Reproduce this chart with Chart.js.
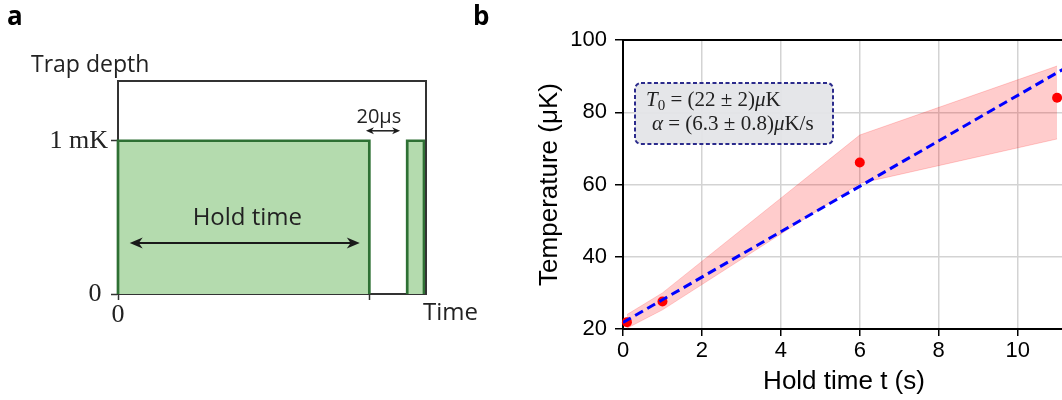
<!DOCTYPE html>
<html>
<head>
<meta charset="utf-8">
<script src="https://cdn.jsdelivr.net/npm/chart.js@4"></script>
<style>
  html, body { margin: 0; padding: 0; background: #fff; width: 1062px; height: 400px; overflow: hidden; }
  #wrapA { position: absolute; left: 0; top: 0; width: 480px; height: 400px; }
  #wrapB { position: absolute; left: 470px; top: 0; width: 600px; height: 400px; }
</style>
</head>
<body>
<div id="wrapA"><canvas id="trapChart" width="480" height="400"></canvas></div>
<div id="wrapB"><canvas id="tempChart" width="600" height="400"></canvas></div>
<script>
// ---- panel b: measured temperatures ----
var holdTimes = [0.1, 1, 6, 11];
var temperatures = [21.9, 27.6, 66.1, 84.0];
var bandUpper = [24.0, 30.0, 73.7, 92.8];
var bandLower = [20.2, 25.3, 60.3, 72.6];
var fitTimes = [0, 11.2];
var fitTemps = [21.8, 92.2];
var timeTicksB = [0, 2, 4, 6, 8, 10];
var tempTicksB = [20, 40, 60, 80, 100];

// ---- panel a: trap depth schematic (arbitrary units) ----
var pulseLevel = [0, 1, 1, 0];
var holdPulseX = [0, 0, 0.816, 0.816];
var probePulseX = [0.939, 0.939, 0.9935, 0.9935];
var depthTicks = [0, 1];
var depthLabels = ['0 ', '1 mK'];
var timeTicksA = [0, 0.816];
var timeLabelsA = ['0', ''];
var holdArrow = [0.038, 0.785, 0.333];
var gapArrow = [0.805, 0.916, 1.065];

function pts(xs, ys) {
    return xs.map(function (x, i) { return { x: x, y: ys[i] }; });
}

function arrowHead(ctx, x, y, dir, len, half) {
    ctx.beginPath();
    ctx.moveTo(x, y);
    ctx.lineTo(x - dir * len, y - half);
    ctx.lineTo(x - dir * len * 0.7, y);
    ctx.lineTo(x - dir * len, y + half);
    ctx.closePath();
    ctx.fill();
}

function doubleArrow(ctx, x1, x2, y, len, half, width) {
    ctx.lineWidth = width;
    ctx.beginPath();
    ctx.moveTo(x1 + len * 0.6, y);
    ctx.lineTo(x2 - len * 0.6, y);
    ctx.stroke();
    arrowHead(ctx, x1, y, -1, len, half);
    arrowHead(ctx, x2, y, 1, len, half);
}

// frame, arrows and texts of the schematic
var schematicPlugin = {
    id: 'schematic',
    afterDraw: function (chart) {
        var ctx = chart.ctx, a = chart.chartArea;
        var sx = chart.scales.x, sy = chart.scales.y;
        ctx.save();
        ctx.strokeStyle = '#333';
        ctx.lineWidth = 2;
        ctx.beginPath();
        ctx.moveTo(a.left - 1, a.top);
        ctx.lineTo(a.right, a.top);
        ctx.lineTo(a.right, a.bottom);
        ctx.stroke();

        ctx.fillStyle = '#1a1a1a';
        ctx.strokeStyle = '#1a1a1a';
        doubleArrow(ctx, sx.getPixelForValue(holdArrow[0]), sx.getPixelForValue(holdArrow[1]),
            sy.getPixelForValue(holdArrow[2]), 13, 5.5, 2);
        doubleArrow(ctx, sx.getPixelForValue(gapArrow[0]), sx.getPixelForValue(gapArrow[1]),
            sy.getPixelForValue(gapArrow[2]), 8, 3.5, 1.5);

        ctx.fillStyle = '#222';
        ctx.textBaseline = 'alphabetic';
        ctx.textAlign = 'center';
        ctx.font = '24px "Open Sans"';
        ctx.fillText('Hold time', sx.getPixelForValue(0.42), sy.getPixelForValue(0.45));
        ctx.font = '20px "Open Sans"';
        ctx.fillText('20\u03bcs', sx.getPixelForValue(0.847), sy.getPixelForValue(1.117));
        ctx.textAlign = 'left';
        ctx.font = '23px "Open Sans"';
        ctx.fillText('Trap depth', a.left - 87, a.top - 9);
        ctx.font = '24px "Open Sans"';
        ctx.fillText('Time', a.right - 3, a.bottom + 26);
        ctx.fillStyle = '#000';
        ctx.font = 'bold 26px "Open Sans"';
        ctx.fillText('a', 7, 25);
        ctx.restore();
    }
};

new Chart(document.getElementById('trapChart'), {
    type: 'scatter',
    data: {
        datasets: [
            {
                data: pts(holdPulseX, pulseLevel), showLine: true, fill: 'origin', clip: false,
                borderColor: '#2e7034', borderWidth: 2.7, backgroundColor: '#b4dbae', pointRadius: 0
            },
            {
                data: pts(probePulseX, pulseLevel), showLine: true, fill: 'origin', clip: false,
                borderColor: '#2e7034', borderWidth: 2.7, backgroundColor: '#b4dbae', pointRadius: 0
            }
        ]
    },
    options: {
        responsive: false,
        animation: false,
        layout: { padding: { left: 0, right: 54, top: 81, bottom: 0 } },
        plugins: { legend: { display: false }, tooltip: { enabled: false } },
        scales: {
            x: {
                type: 'linear', min: 0, max: 1,
                afterBuildTicks: function (s) { s.ticks = timeTicksA.map(function (v) { return { value: v }; }); },
                afterFit: function (s) { s.height = 106; },
                grid: { drawOnChartArea: false, tickLength: 6, tickColor: '#333', tickWidth: 1.5 },
                border: { color: '#333', width: 2 },
                ticks: {
                    callback: function (v, i) { return timeLabelsA[i]; },
                    autoSkip: false, maxRotation: 0, padding: 0, color: '#222',
                    font: { family: 'Liberation Serif', size: 26 }
                }
            },
            y: {
                type: 'linear', min: 0, max: 1.39,
                afterBuildTicks: function (s) { s.ticks = depthTicks.map(function (v) { return { value: v }; }); },
                afterFit: function (s) { s.width = 118; },
                grid: { drawOnChartArea: false, tickLength: 7, tickColor: '#333', tickWidth: 1.5 },
                border: { color: '#333', width: 2 },
                ticks: {
                    callback: function (v, i) { return depthLabels[i]; },
                    autoSkip: false, padding: 3, color: '#222',
                    font: { family: 'Liberation Serif', size: 26 }
                }
            }
        }
    },
    plugins: [schematicPlugin]
});

// top/right spines, fit-parameter box and panel letter
function drawRuns(ctx, x, y, runs) {
    runs.forEach(function (r) {
        ctx.font = r[1];
        ctx.fillText(r[0], x, y + (r[2] || 0));
        x += ctx.measureText(r[0]).width;
    });
}

var tempPlugin = {
    id: 'tempExtras',
    afterDraw: function (chart) {
        var ctx = chart.ctx, a = chart.chartArea;
        ctx.save();
        ctx.strokeStyle = '#000';
        ctx.lineWidth = 2;
        ctx.beginPath();
        ctx.moveTo(a.left - 1, a.top);
        ctx.lineTo(a.right, a.top);
        ctx.lineTo(a.right, a.bottom);
        ctx.stroke();

        var bx = a.left + 12, by = a.top + 43, bw = 198, bh = 61;
        ctx.beginPath();
        ctx.roundRect(bx, by, bw, bh, 6);
        ctx.fillStyle = 'rgba(228,229,232,0.95)';
        ctx.fill();
        ctx.setLineDash([4, 2.5]);
        ctx.strokeStyle = '#2b2b8c';
        ctx.lineWidth = 2;
        ctx.stroke();
        ctx.setLineDash([]);

        var f = '21px "Liberation Serif"', fi = 'italic 21px "Liberation Serif"';
        ctx.fillStyle = '#222';
        ctx.textAlign = 'left';
        ctx.textBaseline = 'alphabetic';
        drawRuns(ctx, bx + 11, by + 23, [
            ['T', fi], ['0', '15px "Liberation Serif"', 4], [' = (22 \u00b1 2)', f], ['\u03bc', fi], ['K', f]
        ]);
        drawRuns(ctx, bx + 17, by + 47, [
            ['\u03b1', fi], [' = (6.3 \u00b1 0.8)', f], ['\u03bc', fi], ['K/s', f]
        ]);

        ctx.fillStyle = '#000';
        ctx.font = 'bold 26px "Open Sans"';
        ctx.fillText('b', 3, 25);
        ctx.restore();
    }
};

new Chart(document.getElementById('tempChart'), {
    type: 'scatter',
    data: {
        datasets: [
            {
                data: pts(holdTimes, bandLower), showLine: true, fill: false, order: 3,
                borderColor: 'rgba(255,0,0,0.18)', borderWidth: 1, pointRadius: 0
            },
            {
                data: pts(holdTimes, bandUpper), showLine: true, fill: '-1', order: 2,
                borderColor: 'rgba(255,0,0,0.18)', borderWidth: 1, backgroundColor: 'rgba(255,0,0,0.2)', pointRadius: 0
            },
            {
                data: pts(holdTimes, temperatures), order: 1, clip: false,
                pointRadius: 5, pointBackgroundColor: '#ff0000', pointBorderWidth: 0
            },
            {
                data: pts(fitTimes, fitTemps), showLine: true, order: 0,
                borderColor: '#0000ff', borderWidth: 3, borderDash: [9, 5], pointRadius: 0
            }
        ]
    },
    options: {
        responsive: false,
        animation: false,
        layout: { padding: { left: 0, right: 5, top: 40, bottom: 0 } },
        plugins: { legend: { display: false }, tooltip: { enabled: false } },
        scales: {
            x: {
                type: 'linear', min: 0, max: 11.2,
                afterBuildTicks: function (s) { s.ticks = timeTicksB.map(function (v) { return { value: v }; }); },
                afterFit: function (s) { s.height = 71; },
                grid: { color: '#d3d3d3', lineWidth: 1.5, tickColor: '#000', tickLength: 7, tickWidth: 1.5 },
                border: { color: '#000', width: 2 },
                ticks: { color: '#000', padding: 2, maxRotation: 0, autoSkip: false, font: { family: 'Liberation Sans', size: 22 } },
                title: {
                    display: true, text: 'Hold time t (s)', color: '#000',
                    font: { family: 'Liberation Sans', size: 26 }, padding: { top: 0, bottom: 3 }
                }
            },
            y: {
                type: 'linear', min: 20, max: 100,
                afterBuildTicks: function (s) { s.ticks = tempTicksB.map(function (v) { return { value: v }; }); },
                afterFit: function (s) { s.width = 153; },
                grid: { color: '#d3d3d3', lineWidth: 1.5, tickColor: '#000', tickLength: 8, tickWidth: 1.5 },
                border: { color: '#000', width: 2 },
                ticks: { color: '#000', padding: 8, autoSkip: false, font: { family: 'Liberation Sans', size: 22 } },
                title: {
                    display: true, text: 'Temperature (\u03bcK)', color: '#000',
                    font: { family: 'Liberation Sans', size: 26 }, padding: { top: 64, bottom: 0 }
                }
            }
        }
    },
    plugins: [tempPlugin]
});
</script>
</body>
</html>
